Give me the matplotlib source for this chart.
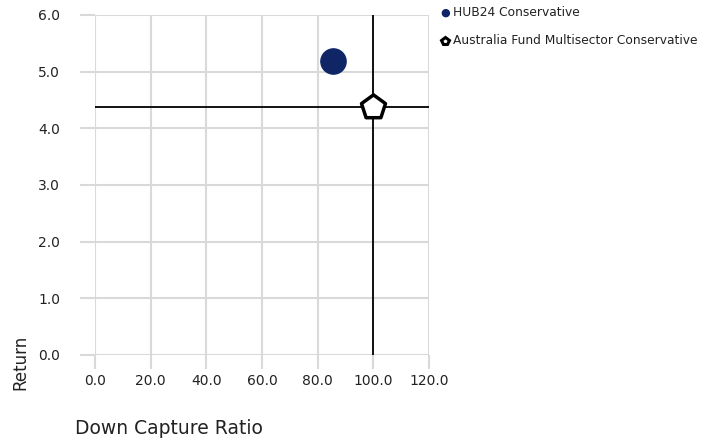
import matplotlib
matplotlib.use("Agg")
import matplotlib.pyplot as plt

# ========= data =========
fund_names = ["HUB24 Conservative", "Australia Fund Multisector Conservative"]
down_capture = [85.5, 100.0]
returns = [5.19, 4.37]
x_ticks = [0, 20, 40, 60, 80, 100, 120]
y_ticks = [0, 1, 2, 3, 4, 5, 6]

GRID = "#d9d9d9"
NAVY = "#0f2566"


def fy(py):
    """pixel row from the top -> figure fraction"""
    return 1 - py / 442


fig = plt.figure(figsize=(7.21, 4.42), dpi=100)
ax = fig.add_axes([95 / 721, 87 / 442, 334 / 721, 340 / 442])

ax.set_xlim(0, 120)
ax.set_ylim(0, 6)
ax.set_xticks(x_ticks)
ax.set_yticks(y_ticks)
ax.set_xticklabels([f"{v:.1f}" for v in x_ticks])
ax.set_yticklabels([f"{v:.1f}" for v in y_ticks])
ax.grid(True, color=GRID, linewidth=1.5)
ax.set_axisbelow(True)
for s in ax.spines.values():
    s.set_visible(False)
ax.tick_params(axis="both", colors=GRID, width=1.5,
               labelcolor="#222222", labelsize=10)
ax.tick_params(axis="x", length=10, pad=4)
ax.tick_params(axis="y", length=11, pad=14)

# crosshair through the benchmark
ax.axvline(down_capture[1], color="black", linewidth=1.3, zorder=2)
ax.axhline(returns[1], color="black", linewidth=1.3, zorder=2)

ax.scatter(down_capture[0], returns[0], s=330, color=NAVY, zorder=3, clip_on=False)
ax.scatter(down_capture[1], returns[1], s=330, marker="p", facecolor="white",
           edgecolor="black", linewidth=2.5, zorder=3, clip_on=False)

fig.text(11 / 721, fy(390), "Return", rotation=90, fontsize=12,
         ha="left", va="bottom", color="#222222")
fig.text(75 / 721, fy(428), "Down Capture Ratio", fontsize=13.5,
         ha="left", va="center", color="#222222")

# legend drawn by hand
fig.text(445 / 721, fy(13), "\u25cf", color=NAVY, fontsize=8,
         ha="center", va="center")
fig.text(453 / 721, fy(13), fund_names[0], fontsize=8.8,
         ha="left", va="center", color="#222222")
fig.lines.append(plt.Line2D([445 / 721], [fy(41)], marker="p", markersize=6,
                            color="black", markerfacecolor="white",
                            markeredgewidth=2.2, transform=fig.transFigure))
fig.text(453 / 721, fy(41), fund_names[1], fontsize=8.8,
         ha="left", va="center", color="#222222")

fig.savefig("out.png", dpi=100)
